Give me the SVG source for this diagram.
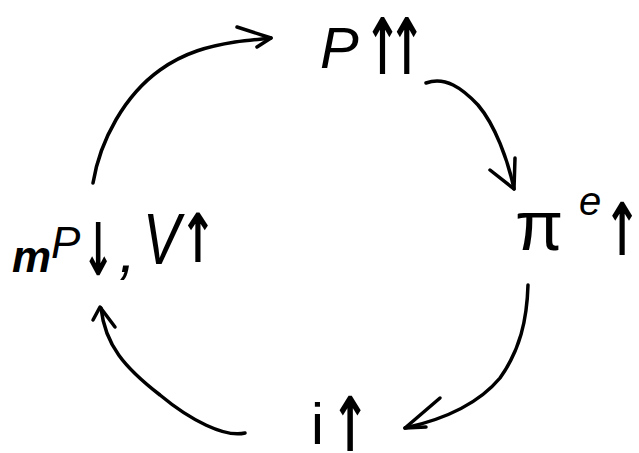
<svg xmlns="http://www.w3.org/2000/svg" width="639" height="453" viewBox="0 0 639 453">
<style>
.t{font-family:"Liberation Sans",Arial,sans-serif;font-style:italic;fill:#000}
.u{font-family:"Liberation Sans",Arial,sans-serif;fill:#000}
.a{font-family:"DejaVu Sans",sans-serif;font-weight:bold;font-size:52px;text-anchor:middle;fill:#000}
.c{fill:none;stroke:#000;stroke-width:3.5;stroke-linecap:round;stroke-linejoin:round}
</style>
<rect width="639" height="453" fill="#fff"/>
<g id="node-P">
<text class="t" x="320" y="68" font-size="58">P</text>
<text class="a" transform="translate(364,74) scale(0.85,1.5)" style="text-anchor:start;letter-spacing:-15px">↑↑</text>
</g>
<g id="node-pi">
<text class="u" x="515" y="250" font-size="70">π</text>
<text class="t" x="579" y="215" font-size="40">e</text>
<text class="a" transform="translate(622,255) scale(0.85,1.4)">↑</text>
</g>
<g id="node-i">
<text class="u" x="311" y="444" font-size="58">i</text>
<text class="a" transform="translate(350,451) scale(0.9,1.45)">↑</text>
</g>
<g id="node-mP">
<text class="t" x="12" y="272" font-size="44" font-weight="bold">m</text>
<text class="t" x="51" y="258" font-size="44">P</text>
<text class="a" transform="translate(98,275) scale(0.75,1.4)">↓</text>
<text class="t" x="119" y="272" font-size="62">,</text>
<text class="t" transform="translate(143,264) scale(0.78,1)" font-size="72">V</text>
<text class="a" transform="translate(198,262) scale(0.85,1.3)">↑</text>
</g>
<g id="connectors">
<path class="c" d="M93,183 C100,140 125,95 160,70 C185,52 210,46 235,42 C250,40 262,39 271,38"/>
<path class="c" d="M237,27 L271,38 L257,47"/>
<path class="c" d="M426,83 C445,76 462,88 478,105 C495,125 508,160 514,189"/>
<path class="c" d="M490,170 L514,189 L515,158"/>
<path class="c" d="M528,285 C527,320 520,350 500,378 C480,402 450,418 405,428"/>
<path class="c" d="M440,398 L405,428 L426,427"/>
<path class="c" d="M245,433 C225,438 190,420 160,395 C125,368 105,345 101,308"/>
<path class="c" d="M93,320 L100,307 L115,327"/>
</g>
</svg>
